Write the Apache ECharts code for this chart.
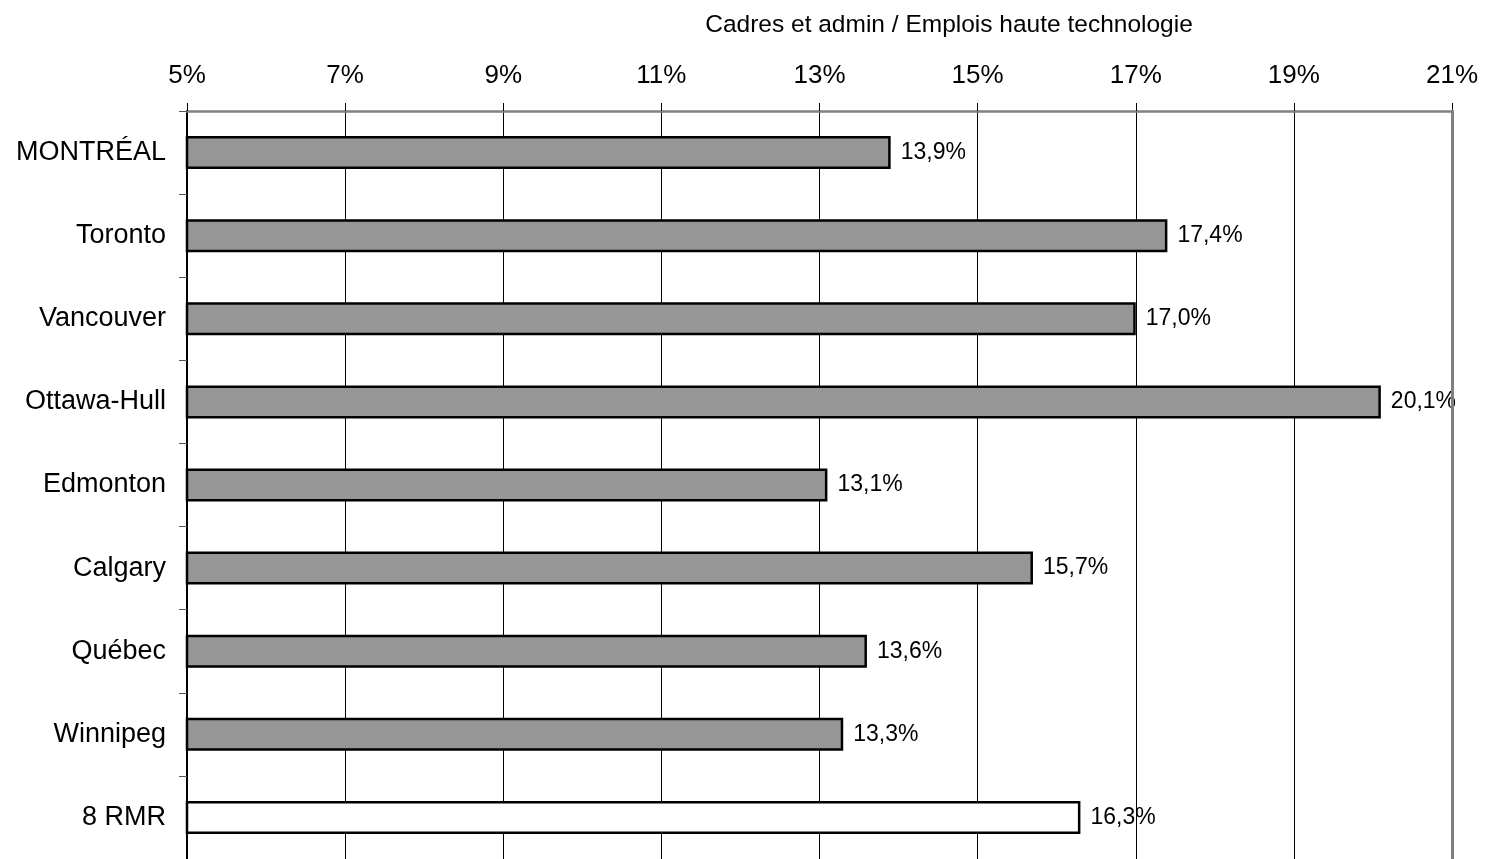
<!DOCTYPE html>
<html>
<head>
<meta charset="utf-8">
<title>Cadres et admin / Emplois haute technologie</title>
<script src="https://cdn.jsdelivr.net/npm/echarts@6/dist/echarts.min.js"></script>
<style>
  html, body { margin: 0; padding: 0; background: #ffffff; }
  #chart { width: 1488px; height: 859px; }
</style>
</head>
<body>
<div id="chart"></div>
<script>
// Share of managers and administrators among high-tech jobs, by metro area
const cities = ['MONTRÉAL', 'Toronto', 'Vancouver', 'Ottawa-Hull', 'Edmonton', 'Calgary', 'Québec', 'Winnipeg', '8 RMR'];
const shares = [13.9, 17.4, 17.0, 20.1, 13.1, 15.7, 13.6, 13.3, 16.3];
const totalLabel = '8 RMR';
const axisTitle = 'Cadres et admin / Emplois haute technologie';
const axisMin = 5;
const axisMax = 21;
const axisStep = 2;

const FONT = '"Liberation Sans", Arial, sans-serif';
const fmt = v => v.toFixed(1).replace('.', ',') + '%';

const chart = echarts.init(document.getElementById('chart'));
chart.setOption({
  animation: false,
  backgroundColor: '#ffffff',
  textStyle: { fontFamily: FONT, color: '#000' },
  title: {
    text: axisTitle,
    left: 944,
    top: 8,
    textAlign: 'center',
    textStyle: { fontFamily: FONT, fontSize: 24.5, fontWeight: 'normal', color: '#000' }
  },
  grid: { left: 187, right: 36, top: 111, height: 751, containLabel: false },
  xAxis: {
    type: 'value',
    position: 'top',
    min: axisMin,
    max: axisMax,
    interval: axisStep,
    axisLine: { show: true, lineStyle: { color: '#808080', width: 2.5 } },
    axisTick: { show: true, inside: false, length: 8, lineStyle: { color: '#000', width: 1 } },
    axisLabel: {
      margin: 22,
      fontSize: 26,
      fontFamily: FONT,
      color: '#000',
      formatter: v => v + '%'
    },
    splitLine: { show: true, lineStyle: { color: '#000', width: 1 } }
  },
  yAxis: [
    {
      type: 'category',
      data: cities,
      inverse: true,
      axisLine: { show: true, lineStyle: { color: '#000', width: 2 } },
      axisTick: { show: true, length: 8, lineStyle: { color: '#555', width: 1 } },
      axisLabel: { margin: 21, fontSize: 27, fontFamily: FONT, color: '#000', padding: [7, 0, 0, 0] },
      splitLine: { show: false }
    },
    {
      type: 'category',
      data: cities,
      inverse: true,
      position: 'right',
      z: 5,
      axisLine: { show: true, lineStyle: { color: '#808080', width: 3 } },
      axisTick: { show: false },
      axisLabel: { show: false },
      splitLine: { show: false }
    }
  ],
  series: [{
    type: 'bar',
    data: shares,
    yAxisIndex: 0,
    barWidth: 33,
    itemStyle: {
      color: p => (p.name === totalLabel ? '#ffffff' : '#969696'),
      borderColor: '#000',
      borderWidth: 2.5
    },
    label: {
      show: true,
      position: 'right',
      distance: 10,
      fontSize: 23,
      fontFamily: FONT,
      color: '#000',
      padding: [6, 0, 0, 0],
      formatter: p => fmt(p.value)
    }
  }]
});
</script>
</body>
</html>
